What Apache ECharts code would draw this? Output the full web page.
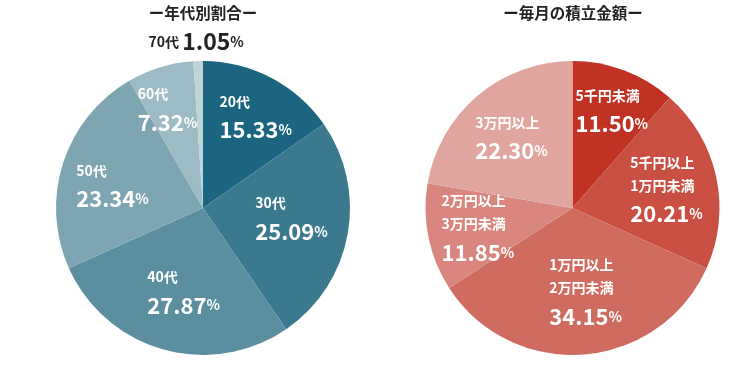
<!DOCTYPE html>
<html><head><meta charset="utf-8">
<script src="https://cdn.jsdelivr.net/npm/echarts@6/dist/echarts.min.js"></script>
<style>html,body{margin:0;padding:0;background:#fff}#c{width:754px;height:368px}</style>
</head><body><div id="c"></div>
<script>
const ageTitle = 'ー年代別割合ー';
const ageCats = ['20代', '30代', '40代', '50代', '60代', '70代'];
const ageVals = [15.33, 25.09, 27.87, 23.34, 7.32, 1.05];
const amtTitle = 'ー毎月の積立金額ー';
const amtCats = ['5千円未満', '5千円以上\n1万円未満', '1万円以上\n2万円未満', '2万円以上\n3万円未満', '3万円以上'];
const amtVals = [11.50, 20.21, 34.15, 11.85, 22.30];

const ageColors = ['#1b6580', '#3a798e', '#5b8fa0', '#7ea5b2', '#9dbbc5', '#c0d3d9'];
const amtColors = ['#bf3224', '#c84f42', '#d06b60', '#d9867e', '#e1a5a0'];
// label offsets (left edge / vertical centre relative to the library's inside anchor)
const ageOff = [[-19, -22], [-23, -2], [-35, 12], [-54, 3], [-43, -24], [-52, -90]];
const amtOff = [[-24, -24], [-17, -1], [-29, 9], [-56, 6], [-48, -10]];

const FONT = '"Noto Sans CJK JP", "Noto Sans", sans-serif';
const rich = {
  n: {fontSize: 14, fontWeight: 'bold', color: '#fff', fontFamily: FONT, lineHeight: 23},
  v: {fontSize: 22, fontWeight: 'bold', color: '#fff', fontFamily: FONT, lineHeight: 34},
  p: {fontSize: 14, fontWeight: 'bold', color: '#fff', fontFamily: FONT, lineHeight: 34},
  n2: {fontSize: 14, fontWeight: 'bold', color: '#222', fontFamily: FONT},
  v2: {fontSize: 23, fontWeight: 'bold', color: '#222', fontFamily: FONT},
  p2: {fontSize: 14, fontWeight: 'bold', color: '#222', fontFamily: FONT}
};
function fmt(p) {
  const v = p.value.toFixed(2);
  if (p.seriesIndex === 0 && p.dataIndex === 5) {
    return '{n2|' + p.name + ' }{v2|' + v + '}{p2|%}';
  }
  const lines = p.name.split('\n').map(s => '{n|' + s + '}').join('\n');
  return lines + '\n{v|' + v + '}{p|%}';
}
function mk(cats, vals, colors, off, cx) {
  return {
    type: 'pie', radius: 147, center: [cx, 208], startAngle: 90, clockwise: true,
    silent: true, avoidLabelOverlap: false,
    data: cats.map((c, i) => ({name: c, value: vals[i], itemStyle: {color: colors[i]}})),
    label: {show: true, position: 'inside', formatter: fmt, rich: rich, align: 'left'},
    labelLine: {show: false},
    labelLayout: function (p) {
      const o = off[p.dataIndex];
      return {dx: o[0], dy: o[1], align: 'left', verticalAlign: 'middle'};
    }
  };
}
const ts = {fontSize: 15.5, fontWeight: 'bold', color: '#222', fontFamily: FONT};
const chart = echarts.init(document.getElementById('c'), null, {renderer: 'canvas'});
chart.setOption({
  animation: false,
  title: [
    {text: ageTitle, left: 198, top: 0, textAlign: 'center', textStyle: ts},
    {text: amtTitle, left: 568, top: 0, textAlign: 'center', textStyle: ts}
  ],
  series: [mk(ageCats, ageVals, ageColors, ageOff, 203), mk(amtCats, amtVals, amtColors, amtOff, 572.5)]
});
</script></body></html>
